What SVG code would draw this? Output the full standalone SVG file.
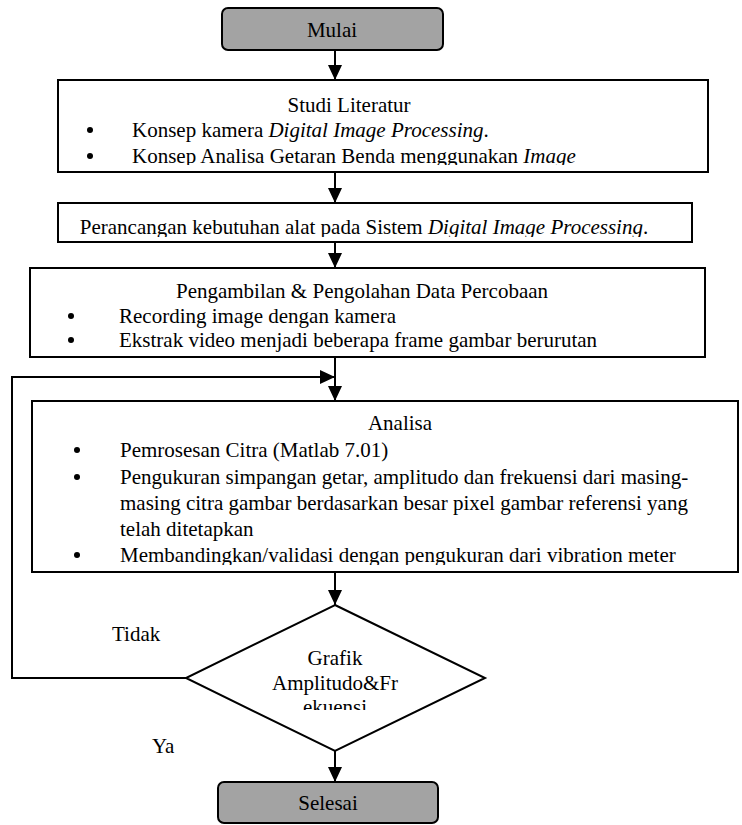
<svg xmlns="http://www.w3.org/2000/svg" width="742" height="825" viewBox="0 0 742 825">
<style>
text{font-family:"Liberation Serif","Times New Roman",serif;font-size:21px;fill:#000}
.c{text-anchor:middle}
.i{font-style:italic}
.box{fill:#fff;stroke:#000;stroke-width:2}
.term{fill:#a3a3a3;stroke:#000;stroke-width:2}
.ln{fill:none;stroke:#000;stroke-width:2}
</style>
<defs>
<marker id="ah" markerUnits="userSpaceOnUse" markerWidth="16" markerHeight="16" viewBox="0 0 16 16" refX="15" refY="8" orient="auto">
<path d="M0,1 L15,8 L0,15 Z" fill="#000"/>
</marker>
<clipPath id="c1"><rect x="58" y="80" width="650" height="85"/></clipPath>
<clipPath id="c2"><rect x="58" y="203" width="634" height="34"/></clipPath>
<clipPath id="c3"><rect x="32" y="401" width="706" height="164"/></clipPath>
<clipPath id="c4"><rect x="188" y="605" width="294" height="105"/></clipPath>
</defs>
<g id="connectors">
<line class="ln" x1="335" y1="50" x2="335" y2="80" marker-end="url(#ah)"/>
<line class="ln" x1="335" y1="172" x2="335" y2="203" marker-end="url(#ah)"/>
<line class="ln" x1="335" y1="242" x2="335" y2="268" marker-end="url(#ah)"/>
<line class="ln" x1="335" y1="357" x2="335" y2="401" marker-end="url(#ah)"/>
<line class="ln" x1="335" y1="572" x2="335" y2="605" marker-end="url(#ah)"/>
<line class="ln" x1="335" y1="751" x2="335" y2="782" marker-end="url(#ah)"/>
<polyline class="ln" points="188,678 12,678 12,377 335,377" marker-end="url(#ah)"/>
<text x="112" y="641">Tidak</text>
<text x="152" y="753">Ya</text>
</g>
<g id="mulai">
<rect class="term" x="222" y="8" width="221" height="42" rx="6"/>
<text class="c" x="332" y="37">Mulai</text>
</g>
<g id="studi">
<rect class="box" x="58" y="80" width="650" height="92"/>
<g clip-path="url(#c1)">
<text class="c" x="349" y="112">Studi Literatur</text>
<circle cx="90" cy="130" r="3"/>
<text x="132" y="137">Konsep kamera <tspan class="i">Digital Image Processing</tspan>.</text>
<circle cx="90" cy="156" r="3"/>
<text x="132" y="163">Konsep Analisa Getaran Benda menggunakan <tspan class="i">Image</tspan></text>
</g>
</g>
<g id="perancangan">
<rect class="box" x="58" y="203" width="634" height="39"/>
<g clip-path="url(#c2)">
<text class="c" x="364" y="234">Perancangan kebutuhan alat pada Sistem <tspan class="i">Digital Image Processing</tspan>.</text>
</g>
</g>
<g id="pengambilan">
<rect class="box" x="30" y="268" width="675" height="89"/>
<text class="c" x="362" y="298">Pengambilan &amp; Pengolahan Data Percobaan</text>
<circle cx="71" cy="316" r="3"/>
<text x="119" y="323">Recording image dengan kamera</text>
<circle cx="71" cy="340" r="3"/>
<text x="119" y="347">Ekstrak video menjadi beberapa frame gambar berurutan</text>
</g>
<g id="analisa">
<rect class="box" x="32" y="401" width="706" height="171"/>
<g clip-path="url(#c3)">
<text class="c" x="400" y="430">Analisa</text>
<circle cx="77" cy="450" r="3"/>
<text x="120" y="457">Pemrosesan Citra (Matlab 7.01)</text>
<circle cx="77" cy="477" r="3"/>
<text x="120" y="484">Pengukuran simpangan getar, amplitudo dan frekuensi dari masing-</text>
<text x="120" y="510">masing citra gambar berdasarkan besar pixel gambar referensi yang</text>
<text x="120" y="536">telah ditetapkan</text>
<circle cx="77" cy="555" r="3"/>
<text x="120" y="562">Membandingkan/validasi dengan pengukuran dari vibration meter</text>
</g>
</g>
<g id="grafik">
<polygon class="box" points="335,605 485,678 335,751 186,678"/>
<g clip-path="url(#c4)">
<text class="c" x="335" y="665">Grafik</text>
<text class="c" x="335" y="690">Amplitudo&amp;Fr</text>
<text class="c" x="335" y="714">ekuensi</text>
</g>
</g>
<g id="selesai">
<rect class="term" x="218" y="782" width="220" height="41" rx="6"/>
<text class="c" x="328" y="810">Selesai</text>
</g>
</svg>
